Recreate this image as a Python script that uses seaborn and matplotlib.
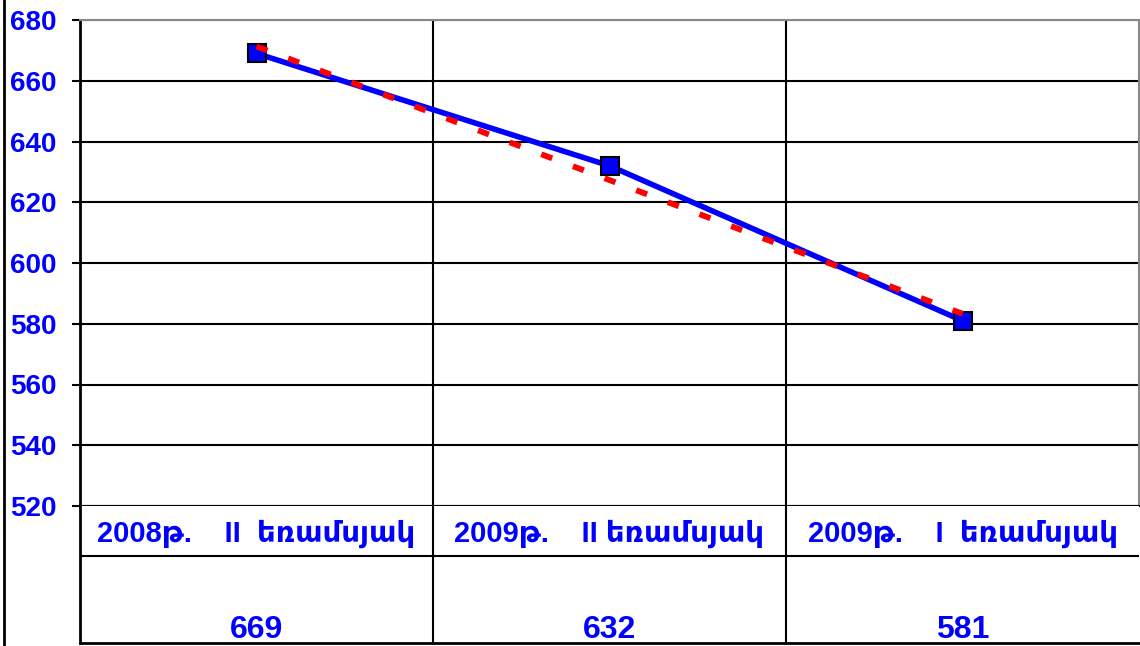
import numpy as np
import pandas as pd
import matplotlib
matplotlib.use('Agg')
import matplotlib.pyplot as plt
from matplotlib.lines import Line2D
import seaborn as sns

# data
periods = ['2008թ.    II  եռամսյակ', '2009թ.    II եռամսյակ', '2009թ.    I  եռամսյակ']
values = [669, 632, 581]
trend = [671.3, 627.3, 583.3]   # red dotted linear trend line
yticks = [520, 540, 560, 580, 600, 620, 640, 660, 680]

sns.set_style('white')
plt.rcParams['font.family'] = ['Liberation Sans', 'DejaVu Sans']
plt.rcParams['font.weight'] = 'bold'

W, H = 1140, 646
fig = plt.figure(figsize=(W / 100, H / 100), dpi=100)
blue = '#0000FF'

# main plot area
ax = fig.add_axes([80 / W, 1 - 506 / H, 1059 / W, 486 / H])
df = pd.DataFrame({'pos': range(len(values)), 'value': values, 'trend': trend})
sns.lineplot(data=df, x='pos', y='value', ax=ax, color=blue, lw=4, marker='s',
             markersize=13, markerfacecolor=blue, markeredgecolor='black',
             markeredgewidth=1.5, zorder=3)
sns.lineplot(data=df, x='pos', y='trend', ax=ax, color='red', lw=4.2,
             linestyle=(0, (2, 3.8)), zorder=4)
ax.set_xlim(-0.5, 2.5)
ax.set_ylim(520, 680)
ax.set_yticks(yticks)
ax.set_yticklabels([str(t) for t in yticks], color=blue, fontsize=20, fontweight='bold')
ax.tick_params(axis='y', direction='out', length=6, width=1.5, color='black', pad=11, left=True)
ax.set_xticks([])
ax.set_xlabel('')
ax.set_ylabel('')
ax.yaxis.grid(True, color='black', lw=1.5)
for xv in [0.5, 1.5]:
    ax.axvline(xv, color='black', lw=1.5, zorder=1)
ax.spines['left'].set_color('black')
ax.spines['left'].set_linewidth(2)
ax.spines['bottom'].set_color('black')
ax.spines['bottom'].set_linewidth(1.5)
ax.spines['top'].set_color('#888888')
ax.spines['top'].set_linewidth(1.5)
ax.spines['right'].set_color('#888888')
ax.spines['right'].set_linewidth(1.5)

# data table under the plot
tab = fig.add_axes([80 / W, 1 - 643 / H, 1059 / W, 137 / H])
tab.set_xlim(-0.5, 2.5)
tab.set_ylim(0, 137)
tab.set_xticks([])
tab.set_yticks([])
for s in ['left', 'bottom']:
    tab.spines[s].set_color('black')
    tab.spines[s].set_linewidth(2)
tab.spines['top'].set_visible(False)
tab.spines['right'].set_visible(False)
tab.axhline(643 - 556, color='black', lw=1.5)
for xv in [0.5, 1.5]:
    tab.axvline(xv, color='black', lw=1.5)
for i, (p, v) in enumerate(zip(periods, values)):
    tab.text(i, 643 - 542, p, ha='center', va='baseline', color=blue,
             fontsize=21, fontweight='bold')
    tab.text(i, 643 - 638, str(v), ha='center', va='baseline', color=blue,
             fontsize=23, fontweight='bold')

# outer left frame line
fig.add_artist(Line2D([4 / W, 4 / W], [0, 1], color='black', lw=2))

plt.savefig('out.png', dpi=100)
plt.close()
